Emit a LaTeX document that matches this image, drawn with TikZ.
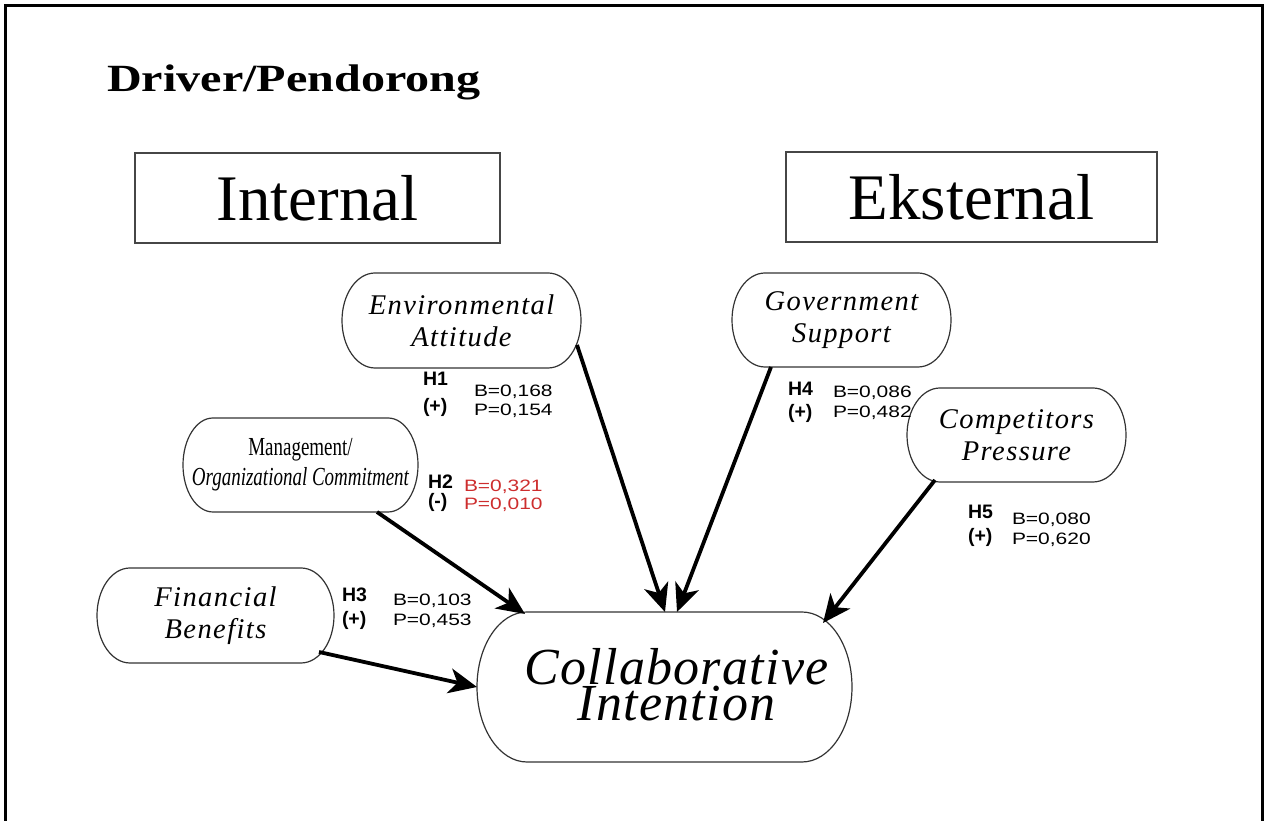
\documentclass[tikz,border=0pt]{standalone}
\usepackage{fontspec}
\usepackage{graphicx}
\usetikzlibrary{arrows.meta}
\setmainfont{Liberation Serif}
\newfontfamily\pillfont[LetterSpace=5]{Liberation Serif}
\newfontfamily\bigpillfont[LetterSpace=2.5]{Liberation Serif}
\newfontfamily\statfont{Liberation Sans}
\definecolor{statred}{RGB}{205,45,45}
\definecolor{boxgray}{RGB}{70,70,70}

% outline of a pill-shaped box with elliptical ends
% #1 node name, #2 horizontal radius of the ends, #3 half of the height
\newcommand\pilloutline[3]{%
  \draw[pillline] ([xshift=#2]#1.north west) -- ([xshift=-#2]#1.north east)
    arc[start angle=90, end angle=-90, x radius=#2, y radius=#3]
    -- ([xshift=#2]#1.south west)
    arc[start angle=270, end angle=90, x radius=#2, y radius=#3] -- cycle;}
% statistics are set wide
\newcommand\statwide[1]{\scalebox{1.27}[1]{#1}}

\begin{document}
\begin{tikzpicture}[x=1pt,y=1pt,
  pill/.style={draw=none, inner sep=0pt, outer sep=0pt, align=center,
    font=\pillfont\itshape\fontsize{28.5}{32}\selectfont},
  pillline/.style={draw=black!80, line width=1.2pt},
  groupbox/.style={draw=boxgray, line width=1.6pt, inner sep=0pt, outer sep=0pt,
    font=\fontsize{65}{70}\selectfont},
  hyp/.style={anchor=base west, inner sep=0pt, outer sep=0pt,
    font=\statfont\bfseries\fontsize{19.5}{22}\selectfont},
  stat/.style={anchor=base west, inner sep=0pt, outer sep=0pt,
    font=\statfont\fontsize{16.5}{18}\selectfont},
  link/.style={line width=3.8pt, -{Stealth[length=28pt,width=25pt,inset=8pt]}},
]
\useasboundingbox (0,0) rectangle (1267,821);

% page frame, open at the bottom
\draw[line width=3pt] (5,0) -- (5,815) -- (1262,815) -- (1262,0);

% heading
\node[anchor=base west, inner sep=0pt] (title) at (107,729)
  {\scalebox{1.25}[1]{\bfseries\fontsize{38.5}{40}\selectfont Driver/Pendorong}};

% driver groups
\node[groupbox, minimum width=365pt, minimum height=90pt] (internal) at (317.5,623) {Internal};
\node[groupbox, minimum width=371pt, minimum height=90pt] (eksternal) at (971.5,624) {Eksternal};

% factors
\node[pill, minimum width=239pt, minimum height=95pt] (ea) at (461.5,500.5) {Environmental\\Attitude};
\pilloutline{ea}{33pt}{47.5pt}
\node[pill, minimum width=219pt, minimum height=94pt] (gs) at (841.5,501) {Government\\Support};
\pilloutline{gs}{33pt}{47pt}
\node[pill, minimum width=219pt, minimum height=94pt] (cp) at (1016.5,386) {Competitors\\Pressure};
\pilloutline{cp}{33pt}{47pt}
\node[pill, minimum width=235pt, minimum height=94pt, font=\fontsize{26}{30}\selectfont] (mo) at (300.5,356)
  {\scalebox{0.73}[1]{Management/}\\\scalebox{0.73}[1]{\itshape Organizational Commitment}};
\pilloutline{mo}{30pt}{47pt}
\node[pill, minimum width=237pt, minimum height=95pt] (fb) at (215.5,205.5) {Financial\\Benefits};
\pilloutline{fb}{33pt}{47.5pt}

% outcome
\node[pill, minimum width=375pt, minimum height=150pt] (ci) at (664.5,134) {};
\pilloutline{ci}{50pt}{75pt}
\node[pill, font=\bigpillfont\itshape\fontsize{52}{33}\selectfont] (citext) at ([xshift=12pt,yshift=2pt]ci.center)
  {Collaborative\\Intention};

% hypotheses and estimates
\node[hyp] (h1) at (423,435) {H1};
\node[hyp] (h1s) at (423,408) {(+)};
\node[stat] (h1b) at (474,424) {\statwide{B=0,168}};
\node[stat] (h1p) at (474,405) {\statwide{P=0,154}};

\node[hyp] (h2) at (428,332) {H2};
\node[hyp] (h2s) at (428,313) {(-)};
\node[stat, text=statred] (h2b) at (464,329) {\statwide{B=0,321}};
\node[stat, text=statred] (h2p) at (464,311) {\statwide{P=0,010}};

\node[hyp] (h3) at (342,219) {H3};
\node[hyp] (h3s) at (342,195) {(+)};
\node[stat] (h3b) at (393,215) {\statwide{B=0,103}};
\node[stat] (h3p) at (393,195) {\statwide{P=0,453}};

\node[hyp] (h4) at (788,425) {H4};
\node[hyp] (h4s) at (788,402) {(+)};
\node[stat] (h4b) at (833,423) {\statwide{B=0,086}};
\node[stat] (h4p) at (833,403) {\statwide{P=0,482}};

\node[hyp] (h5) at (968,302) {H5};
\node[hyp] (h5s) at (968,278) {(+)};
\node[stat] (h5b) at (1012,296) {\statwide{B=0,080}};
\node[stat] (h5p) at (1012,276) {\statwide{P=0,620}};

% paths to the outcome
\draw[link] ([xshift=-4pt,yshift=23pt]ea.south east) -- ([xshift=0.5pt]ci.north);
\draw[link] ([xshift=39pt]gs.south west) -- ([xshift=12.5pt]ci.north);
\draw[link] ([xshift=28pt,yshift=2pt]cp.south west) -- ([xshift=-29pt,yshift=-11pt]ci.north east);
\draw[link] ([xshift=76.5pt]mo.south) -- ([xshift=48pt,yshift=-2pt]ci.north west);
\draw[link] ([xshift=-15pt,yshift=11pt]fb.south east) -- (ci.west);
\end{tikzpicture}
\end{document}
